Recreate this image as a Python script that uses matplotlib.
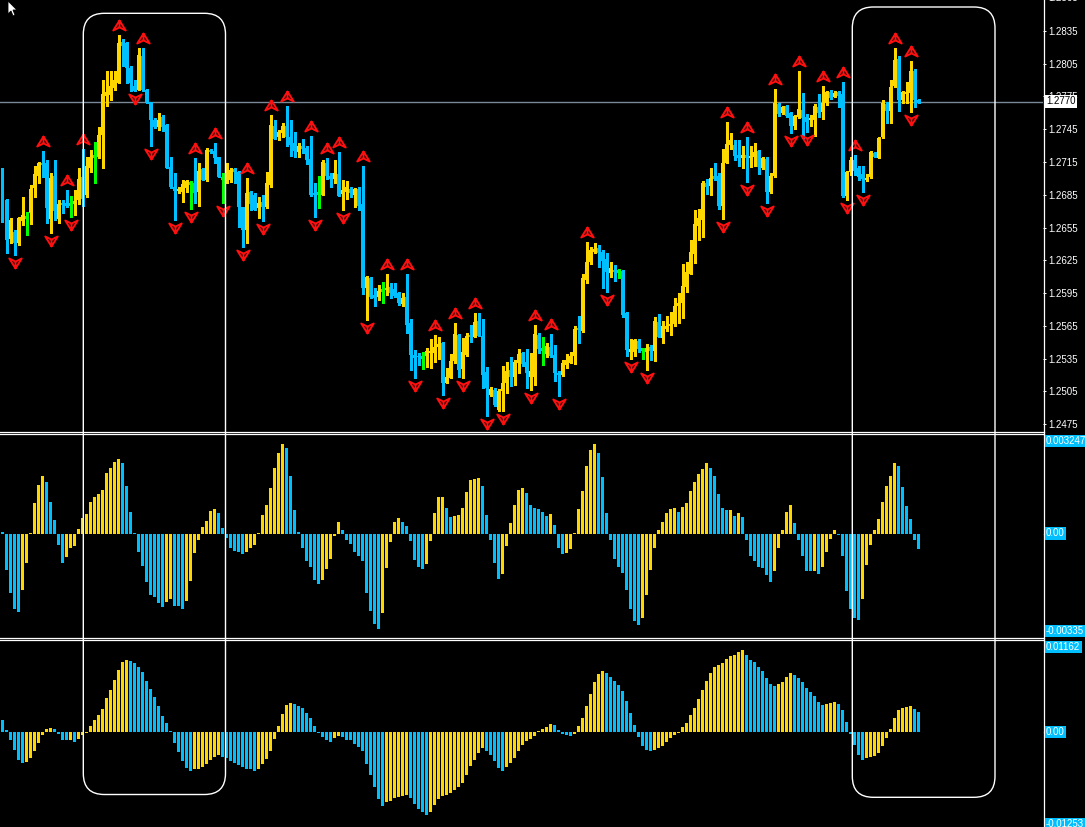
import numpy as np
import matplotlib
matplotlib.use("Agg")
import matplotlib.pyplot as plt
from matplotlib.patches import FancyBboxPatch, Polygon
from matplotlib.path import Path
from matplotlib.lines import Line2D
from matplotlib.markers import MarkerStyle
from matplotlib import transforms

# ---- price data: pips above BASE ----
BASE = 1.2475
LAST_PRICE = 1.2770

opens = [
    232.7, 205.3, 169.3, 176.3, 165.6, 186.4, 190.0, 193.7, 215.9, 227.2,
    239.4, 238.8, 187.6, 227.2, 187.6, 202.8, 202.2, 201.6, 201.6, 205.3,
    226.0, 209.8, 234.2, 245.5, 244.9, 264.7, 300.4, 301.3, 307.4, 312.6,
    350.1, 348.6, 325.7, 309.6, 305.9, 337.0, 305.9, 294.6, 277.9, 271.5,
    280.9, 273.9, 235.2, 217.5, 213.8, 212.9, 215.9, 221.1, 220.5, 212.9,
    233.6, 223.6, 251.0, 250.4, 244.9, 225.1, 223.6, 223.6, 233.6, 231.2,
    198.6, 177.8, 212.3, 209.8, 197.6, 203.7, 198.6, 219.0, 273.0, 262.6,
    266.3, 273.0, 262.6, 257.7, 249.5, 254.7, 252.5, 242.5, 211.4, 211.4,
    209.8, 239.4, 227.2, 224.2, 229.1, 210.5, 212.9, 215.0, 210.1, 215.0,
    201.6, 124.4, 134.2, 118.3, 116.8, 122.9, 122.9, 125.4, 123.5, 119.9,
    110.1, 116.5, 92.8, 63.4, 62.5, 61.9, 62.5, 65.6, 65.0, 70.5,
    74.7, 38.1, 42.7, 57.9, 81.4, 50.3, 63.4, 81.7, 80.2, 94.9,
    80.8, 48.2, 26.8, 31.4, 13.1, 30.8, 38.1, 49.7, 43.6, 55.8,
    65.0, 56.7, 43.6, 43.6, 81.7, 68.9, 64.4, 71.1, 63.4, 46.7,
    45.1, 54.3, 56.4, 62.5, 88.5, 85.4, 132.1, 148.8, 157.4, 161.0,
    158.0, 151.3, 138.8, 141.2, 140.3, 140.3, 102.2, 66.5, 66.5, 76.6,
    68.9, 66.5, 71.1, 67.1, 93.3, 79.3, 86.9, 90.0, 91.8, 108.3,
    110.7, 125.4, 137.6, 155.9, 181.5, 187.0, 221.1, 218.1, 227.2, 227.2,
    199.8, 239.4, 255.6, 255.6, 246.4, 244.0, 246.4, 244.0, 244.9, 250.4,
    234.2, 242.5, 212.9, 227.2, 293.1, 284.6, 291.3, 284.6, 273.0, 281.5,
    287.6, 280.9, 277.9, 277.9, 290.1, 285.2, 294.3, 303.8, 299.8, 303.5,
    302.3, 208.9, 231.2, 241.9, 234.2, 229.1, 223.6, 226.6, 248.6, 244.0,
    262.6, 293.1, 287.0, 309.0, 334.3, 296.8, 302.3, 302.9, 323.6, 296.8,
]
highs = [
    234.2, 205.9, 188.5, 177.8, 190.0, 208.3, 194.6, 219.0, 235.8, 240.3,
    250.1, 241.9, 229.7, 241.9, 205.3, 205.3, 214.4, 208.9, 214.4, 234.2,
    252.0, 244.3, 251.0, 258.6, 271.5, 315.1, 322.7, 322.7, 323.6, 356.2,
    352.3, 350.1, 327.3, 315.1, 344.0, 344.0, 306.5, 295.2, 280.0, 284.6,
    283.0, 274.8, 244.9, 229.7, 217.0, 223.6, 223.6, 222.7, 243.4, 238.8,
    234.2, 252.5, 251.9, 257.1, 244.9, 230.3, 238.8, 234.2, 234.2, 232.1,
    199.2, 225.0, 213.8, 211.4, 208.3, 209.8, 231.2, 283.0, 278.5, 269.3,
    275.4, 291.3, 278.5, 267.2, 257.1, 260.8, 254.1, 263.8, 220.5, 227.2,
    241.9, 243.4, 229.7, 241.9, 249.5, 223.6, 222.7, 216.9, 215.9, 216.9,
    235.8, 135.7, 135.1, 124.4, 127.5, 130.5, 137.6, 129.6, 129.0, 121.4,
    119.9, 137.3, 96.7, 68.0, 65.6, 66.5, 69.5, 77.8, 81.7, 79.6,
    75.6, 51.2, 64.0, 92.4, 82.3, 79.3, 83.3, 90.9, 102.2, 101.6,
    96.1, 52.8, 34.5, 32.9, 32.0, 53.4, 56.7, 61.3, 58.9, 68.9,
    66.5, 68.9, 65.0, 90.9, 83.3, 80.2, 74.1, 82.7, 72.6, 48.8,
    58.9, 64.4, 66.5, 90.0, 99.1, 137.6, 167.1, 162.6, 165.6, 164.1,
    159.5, 156.5, 148.8, 145.8, 141.8, 141.2, 103.1, 77.8, 78.1, 77.8,
    70.2, 73.5, 72.6, 98.5, 101.0, 94.6, 99.1, 103.1, 115.3, 119.9,
    146.7, 148.8, 168.7, 196.1, 197.0, 222.7, 224.2, 234.2, 238.8, 229.7,
    251.6, 276.9, 266.3, 259.6, 259.6, 254.1, 262.6, 254.1, 257.7, 251.0,
    244.9, 244.3, 229.7, 306.8, 294.3, 291.3, 292.2, 286.1, 283.0, 323.6,
    302.9, 284.0, 283.0, 292.8, 302.3, 309.0, 305.3, 305.9, 304.4, 304.4,
    312.9, 232.1, 244.3, 246.0, 235.8, 235.8, 228.8, 250.1, 249.5, 263.2,
    296.8, 295.2, 314.5, 344.0, 337.0, 305.3, 312.9, 332.5, 325.1, 297.4,
]
lows = [
    185.4, 156.5, 165.6, 154.9, 164.1, 182.4, 173.2, 183.3, 208.3, 220.5,
    226.6, 184.5, 174.8, 187.0, 184.5, 193.1, 199.2, 190.0, 191.5, 201.6,
    200.0, 208.3, 231.2, 220.5, 243.4, 234.2, 290.7, 296.8, 305.9, 312.0,
    327.3, 312.6, 304.4, 304.4, 305.9, 304.4, 293.7, 255.0, 270.8, 269.6,
    268.1, 234.2, 216.0, 187.0, 212.0, 203.7, 212.9, 196.7, 202.2, 200.1,
    223.6, 222.7, 248.0, 238.8, 226.0, 202.8, 221.1, 222.0, 220.5, 180.9,
    162.6, 165.6, 196.1, 196.1, 188.5, 186.4, 197.6, 217.5, 260.8, 259.6,
    263.2, 254.1, 245.5, 244.3, 244.3, 248.0, 237.9, 208.9, 189.4, 197.6,
    209.8, 224.2, 216.9, 220.5, 208.9, 196.1, 206.2, 208.3, 199.2, 196.1,
    118.9, 95.2, 115.3, 108.2, 113.8, 111.0, 118.3, 115.3, 116.8, 109.2,
    108.2, 83.6, 49.7, 42.1, 54.3, 50.3, 52.2, 51.2, 57.3, 59.8,
    26.8, 37.5, 42.7, 56.4, 43.6, 42.7, 62.5, 75.6, 79.6, 80.8,
    32.9, 7.6, 25.9, 16.8, 12.0, 12.5, 28.4, 35.4, 36.0, 46.7,
    53.7, 32.9, 31.4, 36.0, 65.6, 54.3, 61.9, 61.9, 39.7, 25.9,
    44.2, 51.9, 55.8, 55.2, 74.7, 84.8, 129.6, 146.4, 157.1, 143.7,
    125.1, 121.4, 135.1, 131.5, 133.6, 98.5, 62.5, 60.1, 62.5, 66.5,
    60.1, 49.7, 58.9, 58.3, 79.6, 74.1, 85.7, 81.7, 90.0, 93.0,
    97.6, 121.4, 137.6, 147.9, 169.0, 171.7, 210.8, 209.8, 223.0, 196.7,
    187.6, 238.8, 251.6, 241.9, 235.8, 234.2, 222.0, 235.2, 235.8, 229.1,
    233.3, 202.8, 212.0, 226.6, 282.1, 284.0, 281.5, 266.3, 269.9, 280.0,
    261.7, 266.9, 273.0, 264.1, 281.5, 279.4, 292.2, 297.7, 299.2, 289.8,
    208.3, 205.3, 228.1, 228.1, 223.6, 212.9, 222.7, 225.1, 244.3, 243.4,
    261.7, 275.4, 276.0, 308.4, 287.0, 294.3, 293.7, 286.1, 290.1, 293.7,
]
closes = [
    196.1, 168.7, 187.0, 165.6, 188.5, 191.5, 190.0, 215.3, 229.1, 238.8,
    237.6, 197.6, 225.1, 195.5, 201.6, 200.7, 199.8, 201.6, 204.4, 224.2,
    206.0, 236.4, 244.9, 245.5, 264.7, 302.3, 303.5, 309.6, 314.5, 349.2,
    346.2, 325.7, 312.0, 305.3, 337.9, 305.9, 293.7, 277.9, 271.5, 278.5,
    271.5, 234.2, 217.5, 213.8, 215.3, 219.6, 222.7, 221.1, 211.4, 232.1,
    223.6, 251.0, 249.5, 244.0, 226.6, 225.1, 232.7, 232.7, 231.2, 199.2,
    177.8, 211.4, 201.6, 196.1, 202.8, 198.6, 220.5, 273.9, 260.8, 266.9,
    272.4, 262.6, 255.6, 250.4, 254.1, 251.6, 241.3, 209.8, 209.8, 211.4,
    240.3, 227.2, 224.2, 230.3, 208.9, 214.4, 216.9, 211.4, 215.0, 199.8,
    124.4, 135.1, 116.2, 115.3, 122.0, 122.9, 125.0, 120.5, 117.4, 110.7,
    115.9, 90.6, 63.4, 60.4, 61.3, 61.9, 67.4, 67.4, 71.1, 73.5,
    38.1, 43.0, 57.9, 82.3, 49.7, 66.2, 80.8, 79.6, 93.9, 80.8,
    45.1, 32.9, 32.0, 17.7, 30.8, 38.1, 48.8, 43.0, 56.7, 64.4,
    55.2, 47.3, 48.8, 82.7, 68.9, 68.9, 71.7, 62.5, 47.3, 45.1,
    56.4, 58.9, 62.5, 86.9, 86.3, 133.6, 148.8, 159.5, 160.4, 157.1,
    149.8, 139.1, 142.7, 139.7, 140.3, 100.0, 68.0, 68.9, 77.2, 68.9,
    68.9, 69.8, 67.4, 94.9, 80.2, 90.3, 90.0, 91.8, 108.3, 110.7,
    126.6, 139.7, 158.0, 183.3, 188.5, 220.5, 217.5, 225.1, 224.2, 199.8,
    239.4, 256.5, 260.2, 245.5, 244.0, 246.4, 243.4, 245.5, 249.5, 234.9,
    243.4, 212.9, 227.2, 294.3, 284.0, 290.1, 282.1, 272.4, 282.4, 288.2,
    280.0, 276.9, 280.6, 291.3, 284.6, 294.3, 303.5, 298.9, 302.9, 300.4,
    208.9, 230.6, 241.3, 232.1, 226.6, 224.5, 225.7, 249.5, 244.9, 262.3,
    294.3, 286.7, 308.4, 333.4, 296.8, 303.5, 303.5, 322.7, 296.8, 294.9,
]

# fractal bars (index of candle)
up_fractals = [10, 16, 20, 29, 35, 48, 53, 61, 67, 71, 77, 81, 84, 90, 96, 101,
               108, 113, 118, 133, 137, 146, 181, 186, 193, 199, 205, 210, 213,
               223, 227]
down_fractals = [3, 12, 17, 33, 37, 43, 47, 55, 60, 65, 78, 85, 91, 103, 110,
                 115, 121, 125, 132, 139, 151, 157, 161, 180, 186, 191, 197, 201,
                 211, 215, 227]

# ---- oscillator 1 (units of 1e-5) ----
osc1 = [
    7, -118, -193, -246, -255, -184, -95, 3, 102, 161,
    190, 171, 105, 46, -36, -95, -75, -46, -39, 16,
    53, 66, 105, 121, 131, 144, 200, 217, 236, 246,
    233, 158, 72, 3, -59, -105, -158, -200, -207, -226,
    -240, -223, -213, -236, -236, -246, -220, -154, -62, -20,
    23, 43, 75, 82, 69, 20, -13, -46, -56, -59,
    -66, -59, -46, -36, 3, 62, 95, 151, 217, 266,
    295, 282, 190, 79, 7, -46, -89, -108, -151, -164,
    -151, -115, -82, -7, 39, 13, -20, -33, -59, -72,
    -89, -194, -253, -295, -312, -259, -112, -26, 39, 53,
    39, 26, -23, -85, -108, -115, -98, -23, 69, 121,
    121, 85, 56, 59, 62, 85, 138, 177, 181, 184,
    158, 62, -20, -95, -148, -131, -39, 36, 95, 144,
    151, 135, 95, 85, 82, 72, 59, 66, 30, -46,
    -66, -62, -49, 3, 82, 141, 223, 276, 295, 266,
    187, 69, -20, -82, -108, -128, -184, -246, -286, -299,
    -276, -200, -118, -46, 13, 39, 69, 82, 85, 72,
    89, 102, 141, 171, 197, 213, 233, 217, 190, 131,
    85, 79, 79, 59, 69, 56, -20, -72, -89, -108,
    -112, -135, -158, -121, -46, 13, 72, 95, 36, -20,
    -72, -121, -121, -121, -131, -108, -59, -16, 13, -3,
    -72, -187, -246, -276, -282, -213, -102, -36, 13, 49,
    105, 158, 190, 233, 223, 154, 92, 49, -20, -49,
]
# u = rising bar (gold), d = falling bar (blue)
osc1_dir = ("ddddduuuuu" "uddddduuuu" "uuuuuuuuuu" "dddddddddd" "duuddduuuu"
            "uuuudddddd" "duuuuuuuuu" "uddddddddd" "uuuuuddddd" "ddddduuuuu"
            "dddddduuuu" "udduuuuuuu" "ddddduuuuu" "uddddddudd" "duuuuuuuud"
            "dddddddddd" "uuuuuuuuud" "uuuuuuuddd" "ddududdddd" "ddduuuuudd"
            "ddduduuuud" "ddddduuuuu" "uuuudddddd")

# ---- oscillator 2 (units of 1e-4) ----
osc2 = [
    15.3, 2.6, -10.2, -23.0, -35.8, -39.6, -38.3, -33.2, -24.3, -14.1,
    -3.8, 3.8, 5.1, 3.8, -2.6, -10.2, -10.2, -9.8, -12.8, -8.9,
    -3.8, -1.3, 7.7, 15.3, 21.7, 29.4, 43.5, 53.7, 66.5, 79.2,
    89.5, 92.0, 90.7, 88.2, 83.1, 76.7, 65.2, 55.0, 44.7, 33.2,
    20.4, 11.5, 1.3, -14.1, -25.6, -37.1, -46.0, -49.8, -47.3, -47.0,
    -44.7, -40.9, -35.8, -32.0, -29.4, -32.0, -33.2, -37.1, -39.6, -42.2,
    -44.7, -47.3, -47.6, -49.8, -47.3, -40.9, -34.5, -24.3, -8.9, 7.7,
    23.0, 34.5, 37.1, 35.8, 33.2, 30.7, 24.3, 17.9, 7.7, -1.3,
    -6.4, -10.2, -12.8, -7.7, -5.1, -6.4, -10.2, -10.4, -15.3, -19.2,
    -24.3, -40.9, -55.0, -70.3, -85.6, -94.6, -89.5, -88.2, -84.3, -83.1,
    -81.8, -80.5, -84.3, -92.0, -98.4, -102.2, -106.1, -102.2, -93.3, -85.6,
    -81.8, -80.5, -78.0, -74.1, -70.3, -65.2, -55.0, -43.5, -35.8, -26.8,
    -20.4, -24.3, -29.4, -37.1, -46.0, -49.8, -44.7, -39.6, -33.2, -24.3,
    -16.6, -11.5, -8.9, -5.1, 1.3, 3.8, 6.4, 10.2, 8.9, 2.6,
    -2.6, -3.8, -5.1, -2.6, 7.7, 17.9, 33.2, 48.6, 63.9, 74.1,
    78.0, 75.4, 70.3, 65.2, 60.1, 52.4, 39.6, 24.3, 8.9, -6.4,
    -17.9, -23.0, -24.3, -23.0, -20.4, -17.9, -12.8, -7.7, -3.8, -1.3,
    6.4, 11.5, 21.7, 30.7, 42.2, 53.7, 65.2, 75.4, 83.1, 85.6,
    88.2, 93.3, 97.1, 98.4, 102.2, 104.8, 98.4, 92.0, 89.5, 83.1,
    78.0, 69.0, 61.3, 58.8, 61.3, 63.9, 70.3, 75.4, 72.8, 69.0,
    63.9, 56.2, 51.1, 46.0, 38.3, 34.5, 35.8, 37.1, 38.3, 35.8,
    28.1, 12.8, -2.6, -16.6, -29.4, -35.8, -33.2, -32.0, -30.7, -26.8,
    -17.9, -7.7, 3.8, 17.9, 28.1, 30.7, 32.0, 33.2, 29.4, 25.6,
]
osc2_dir = ("dddddduuuu" "uuuddddudu" "uuuuuuuuuu" "uudddddddd" "dddddddduu"
            "uuuuuddddd" "dddduuuuuu" "uuuddddddd" "ddduuddddd" "dddddduuuu"
            "uuddddduuu" "uuuuuuuuuu" "uddddduuuu" "uuuuuuuudd" "ddduuuuuuu"
            "uddddddddd" "ddduuuuuuu" "uuuuuuuuuu" "uuuuuudddd" "dddduuuudd"
            "dddddduuud" "dddddduuuu" "uuuuuuuudd")

price_labels = ["1.2475", "1.2505", "1.2535", "1.2565", "1.2595", "1.2625", "1.2655",
                "1.2685", "1.2715", "1.2745", "1.2775", "1.2805", "1.2835"]

GOLD = "#FFD700"
BLUE = "#00BFFF"
LIME = "#00FF00"

plt.rcParams["font.family"] = ["Liberation Sans", "DejaVu Sans"]

W, H = 1085, 827
fig = plt.figure(figsize=(W / 100, H / 100), dpi=100, facecolor="black")


def px_axes(x0, y0, x1, y1):
    ax = fig.add_axes([x0 / W, 1 - y1 / H, (x1 - x0) / W, (y1 - y0) / H])
    ax.set_facecolor("black")
    for s in ax.spines.values():
        s.set_visible(False)
    ax.set_xticks([])
    ax.set_xlim(-0.625, 260.125)
    return ax


# ---- price panel ----
o = BASE + np.array(opens) * 1e-4
h = BASE + np.array(highs) * 1e-4
l = BASE + np.array(lows) * 1e-4
c = BASE + np.array(closes) * 1e-4
x = np.arange(len(o))

ax = px_axes(0, 0, 1043, 431)
ax.set_ylim(1.246887, 1.286309)
ax.axhline(LAST_PRICE, color="#7A8898", lw=1.0, zorder=1)

cols = np.where(c > o, GOLD, np.where(c < o, BLUE, LIME))
ax.vlines(x, l, h, colors=cols, lw=0.75, antialiased=False, zorder=2)
body = np.abs(c - o)
ax.bar(x, body, bottom=np.minimum(o, c), width=0.75, color=cols,
       linewidth=0, antialiased=False, zorder=3)
doji = c == o
ax.hlines(o[doji], x[doji] - 0.4, x[doji] + 0.4, colors=LIME, lw=0.75,
          antialiased=False, zorder=3)

up_marker = MarkerStyle(Path([(0, 0.8), (1, -0.8), (0, -0.3), (-1, -0.8), (0, 0.8),
                              (0, 0.8), (0, -0.3)],
                             [1, 2, 2, 2, 79, 1, 2]))
down_marker = MarkerStyle(Path([(0, -0.8), (1, 0.8), (0, 0.3), (-1, 0.8), (0, -0.8),
                                (0, -0.8), (0, 0.3)],
                               [1, 2, 2, 2, 79, 1, 2]))
t_up = transforms.offset_copy(ax.transData, fig=fig, y=10, units="dots")
t_dn = transforms.offset_copy(ax.transData, fig=fig, y=-8, units="dots")
ax.plot(x[up_fractals], h[up_fractals], ls="none", marker=up_marker, ms=9,
        mfc="none", mec="#FF1010", mew=1.4, transform=t_up, zorder=4)
ax.plot(x[down_fractals], l[down_fractals], ls="none", marker=down_marker, ms=9,
        mfc="none", mec="#FF1010", mew=1.4, transform=t_dn, zorder=4)

ax.yaxis.tick_right()
ax.set_yticks([float(s) for s in price_labels])
ax.set_yticklabels(price_labels)
ax.tick_params(axis="y", colors="white", length=2.2, width=0.7, pad=1.5,
               labelsize=7)

# ---- oscillator panels ----
ax1 = px_axes(0, 435, 1043, 636)
ax1.set_ylim(-0.00335, 0.003247)
ax1.set_yticks([])
v1 = np.array(osc1) * 1e-5
ax1.bar(np.arange(len(v1)), v1, width=0.75,
        color=[GOLD if d == "u" else BLUE for d in osc1_dir],
        linewidth=0, antialiased=False)

ax2 = px_axes(0, 641, 1043, 827)
ax2.set_ylim(-0.01213, 0.01162)
ax2.set_yticks([])
v2 = np.array(osc2) * 1e-4
ax2.bar(np.arange(len(v2)), v2, width=0.75,
        color=[GOLD if d == "u" else BLUE for d in osc2_dir],
        linewidth=0, antialiased=False)

ident = transforms.IdentityTransform()


def label(y, text, fc, tc):
    fig.text(1046 / W, 1 - y / H, text, ha="left", va="center", fontsize=7,
             color=tc, bbox=dict(facecolor=fc, edgecolor="none",
                                 boxstyle="square,pad=0.15"))


label(441, "0.003247", BLUE, "white")
label(533.5, "0.00", BLUE, "white")
label(631, "-0.00335", BLUE, "white")
label(647, "0.01162", BLUE, "white")
label(732, "0.00", BLUE, "white")
label(824, "-0.01253", BLUE, "white")
label(101.5, "1.2770", "white", "black")
fig.text(1048 / W, 1 - (-2) / H, "1.2865", ha="left", va="center",
         fontsize=7, color="white")

# frame lines
for yy in (432, 434, 637.5, 640):
    fig.add_artist(Line2D([0, 1043.5], [H - yy, H - yy], color="white", lw=0.9,
                          transform=ident))
fig.add_artist(Line2D([1043.5, 1043.5], [0, H], color="white", lw=0.9,
                      transform=ident))
for yy in (533.5, 732):
    fig.add_artist(Line2D([1043.5, 1046], [H - yy, H - yy], color="white",
                          lw=0.9, transform=ident))

# highlight boxes
for (x0, y0, x1, y1) in [(83.3, 13.3, 225.5, 794.5), (852.3, 7, 995, 797.3)]:
    fig.add_artist(FancyBboxPatch((x0, H - y1), x1 - x0, y1 - y0,
                                  boxstyle="round,pad=0,rounding_size=21",
                                  transform=ident, fill=False,
                                  edgecolor="white", lw=1.0))

# mouse cursor
cursor = [(8, 1), (8, 14), (11, 11), (13, 16), (15, 15), (13, 10), (17, 10)]
fig.add_artist(Polygon([(px, H - py) for px, py in cursor], closed=True,
                       facecolor="white", edgecolor="black", lw=0.6,
                       transform=ident))

fig.savefig("out.png", dpi=100, facecolor="black")
